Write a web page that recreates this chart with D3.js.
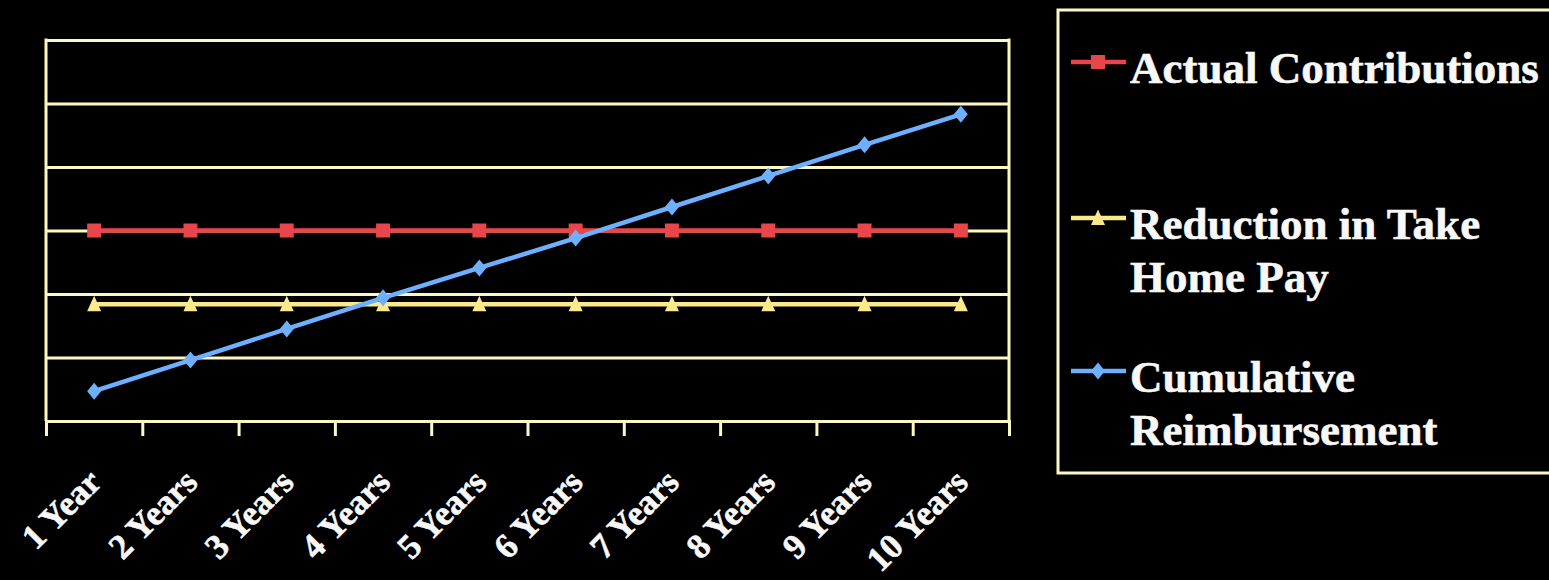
<!DOCTYPE html>
<html>
<head>
<meta charset="utf-8">
<script src="https://cdn.jsdelivr.net/npm/d3@7"></script>
<style>
  html, body { margin: 0; padding: 0; background: #000; overflow: hidden; }
  svg { display: block; }
  .xlabel, .legtext { font-family: "Liberation Serif", "Times New Roman", serif; font-weight: bold; fill: #f8f8f8; }
</style>
</head>
<body>
<div id="chart"></div>
<script>
// data (dollars)
const categories = ["1 Year", "2 Years", "3 Years", "4 Years", "5 Years", "6 Years", "7 Years", "8 Years", "9 Years", "10 Years"];
const actualContributions = [3000, 3000, 3000, 3000, 3000, 3000, 3000, 3000, 3000, 3000];
const reductionTakeHome = [1840, 1840, 1840, 1840, 1840, 1840, 1840, 1840, 1840, 1840];
const cumulativeReimb = [470, 960, 1450, 1940, 2410, 2880, 3370, 3860, 4350, 4830];
const gridValues = [0, 1000, 2000, 3000, 4000, 5000, 6000];
const legendLines = [["Actual Contributions"], ["Reduction in Take", "Home Pay"], ["Cumulative", "Reimbursement"]];

const W = 1549, H = 580;
const plotL = 46, plotR = 1009, plotT = 40, plotB = 421;
const gridColor = "#fcf8c4";

const series = [
  { values: actualContributions, color: "#e8464a", shape: "square" },
  { values: reductionTakeHome, color: "#fbe98c", shape: "triangle" },
  { values: cumulativeReimb, color: "#6cb0ff", shape: "diamond" }
];

const svg = d3.select("#chart").append("svg").attr("width", W).attr("height", H);

const x = d3.scaleBand().domain(categories).range([plotL, plotR]).padding(0);
const xEdge = d3.scaleLinear().domain([0, categories.length]).range([plotL, plotR]);
const y = d3.scaleLinear().domain([0, 6000]).range([plotB, plotT]);

// gridlines
svg.append("g").attr("class", "grid")
  .attr("transform", "translate(" + plotL + ",0)")
  .call(d3.axisLeft(y).tickValues(gridValues).tickSize(-(plotR - plotL)).tickFormat(""))
  .call(g => g.select(".domain").remove())
  .call(g => g.selectAll("line").attr("stroke", gridColor).attr("stroke-width", 3));

// plot border (left + right)
svg.append("line").attr("x1", plotL).attr("x2", plotL).attr("y1", plotT - 1.5).attr("y2", plotB)
  .attr("stroke", gridColor).attr("stroke-width", 3);
svg.append("line").attr("x1", plotR).attr("x2", plotR).attr("y1", plotT - 1.5).attr("y2", plotB)
  .attr("stroke", gridColor).attr("stroke-width", 3);

// bottom axis ticks at category edges
svg.append("g").attr("transform", "translate(0," + plotB + ")")
  .call(d3.axisBottom(xEdge).tickValues(d3.range(categories.length + 1)).tickSize(15).tickFormat(""))
  .call(g => g.select(".domain").attr("stroke", gridColor).attr("stroke-width", 3))
  .call(g => g.selectAll(".tick line").attr("stroke", gridColor).attr("stroke-width", 3));

// category labels, rotated
svg.append("g").selectAll("text").data(categories).enter()
  .append("text").attr("class", "xlabel")
  .attr("text-anchor", "end")
  .attr("font-size", 35)
  .attr("stroke", "#f8f8f8").attr("stroke-width", 0.6)
  .attr("transform", d => "translate(" + (x(d) + x.bandwidth() / 2 + 9) + ",484) rotate(-45)")
  .text(d => d);

function markerPath(shape, s) {
  if (shape === "square") return "M" + (-s) + "," + (-s) + "h" + (2 * s) + "v" + (2 * s) + "h" + (-2 * s) + "Z";
  if (shape === "triangle") return "M0," + (-s - 1.5) + "L" + (s) + "," + (s) + "L" + (-s) + "," + (s) + "Z";
  return "M0," + (-s - 1.5) + "L" + (s) + ",0L0," + (s + 1.5) + "L" + (-s) + ",0Z";
}

const line = d3.line()
  .x((d, i) => x(categories[i]) + x.bandwidth() / 2)
  .y(d => y(d));

series.forEach(s => {
  svg.append("path").datum(s.values)
    .attr("fill", "none").attr("stroke", s.color).attr("stroke-width", 4.5)
    .attr("d", line);
  svg.append("g").selectAll("path").data(s.values).enter()
    .append("path")
    .attr("transform", (d, i) => "translate(" + (x(categories[i]) + x.bandwidth() / 2) + "," + y(d) + ")")
    .attr("d", markerPath(s.shape, 7))
    .attr("fill", s.color);
});

// legend
const leg = svg.append("g");
leg.append("rect").attr("x", 1058).attr("y", 10).attr("width", 520).attr("height", 463)
  .attr("fill", "#000").attr("stroke", gridColor).attr("stroke-width", 3);

const legY = [62, 218, 371];
series.forEach((s, i) => {
  const g = leg.append("g").attr("transform", "translate(0," + legY[i] + ")");
  g.append("line").attr("x1", 1071).attr("x2", 1126).attr("y1", 0).attr("y2", 0)
    .attr("stroke", s.color).attr("stroke-width", 4.5);
  g.append("path").attr("transform", "translate(1098,0)").attr("d", markerPath(s.shape, 7)).attr("fill", s.color);
  legendLines[i].forEach((t, j) => {
    g.append("text").attr("class", "legtext").attr("font-size", 45)
      .attr("stroke", "#f8f8f8").attr("stroke-width", 0.6)
      .attr("x", 1130).attr("y", 21 + j * 53).text(t);
  });
});
</script>
</body>
</html>
